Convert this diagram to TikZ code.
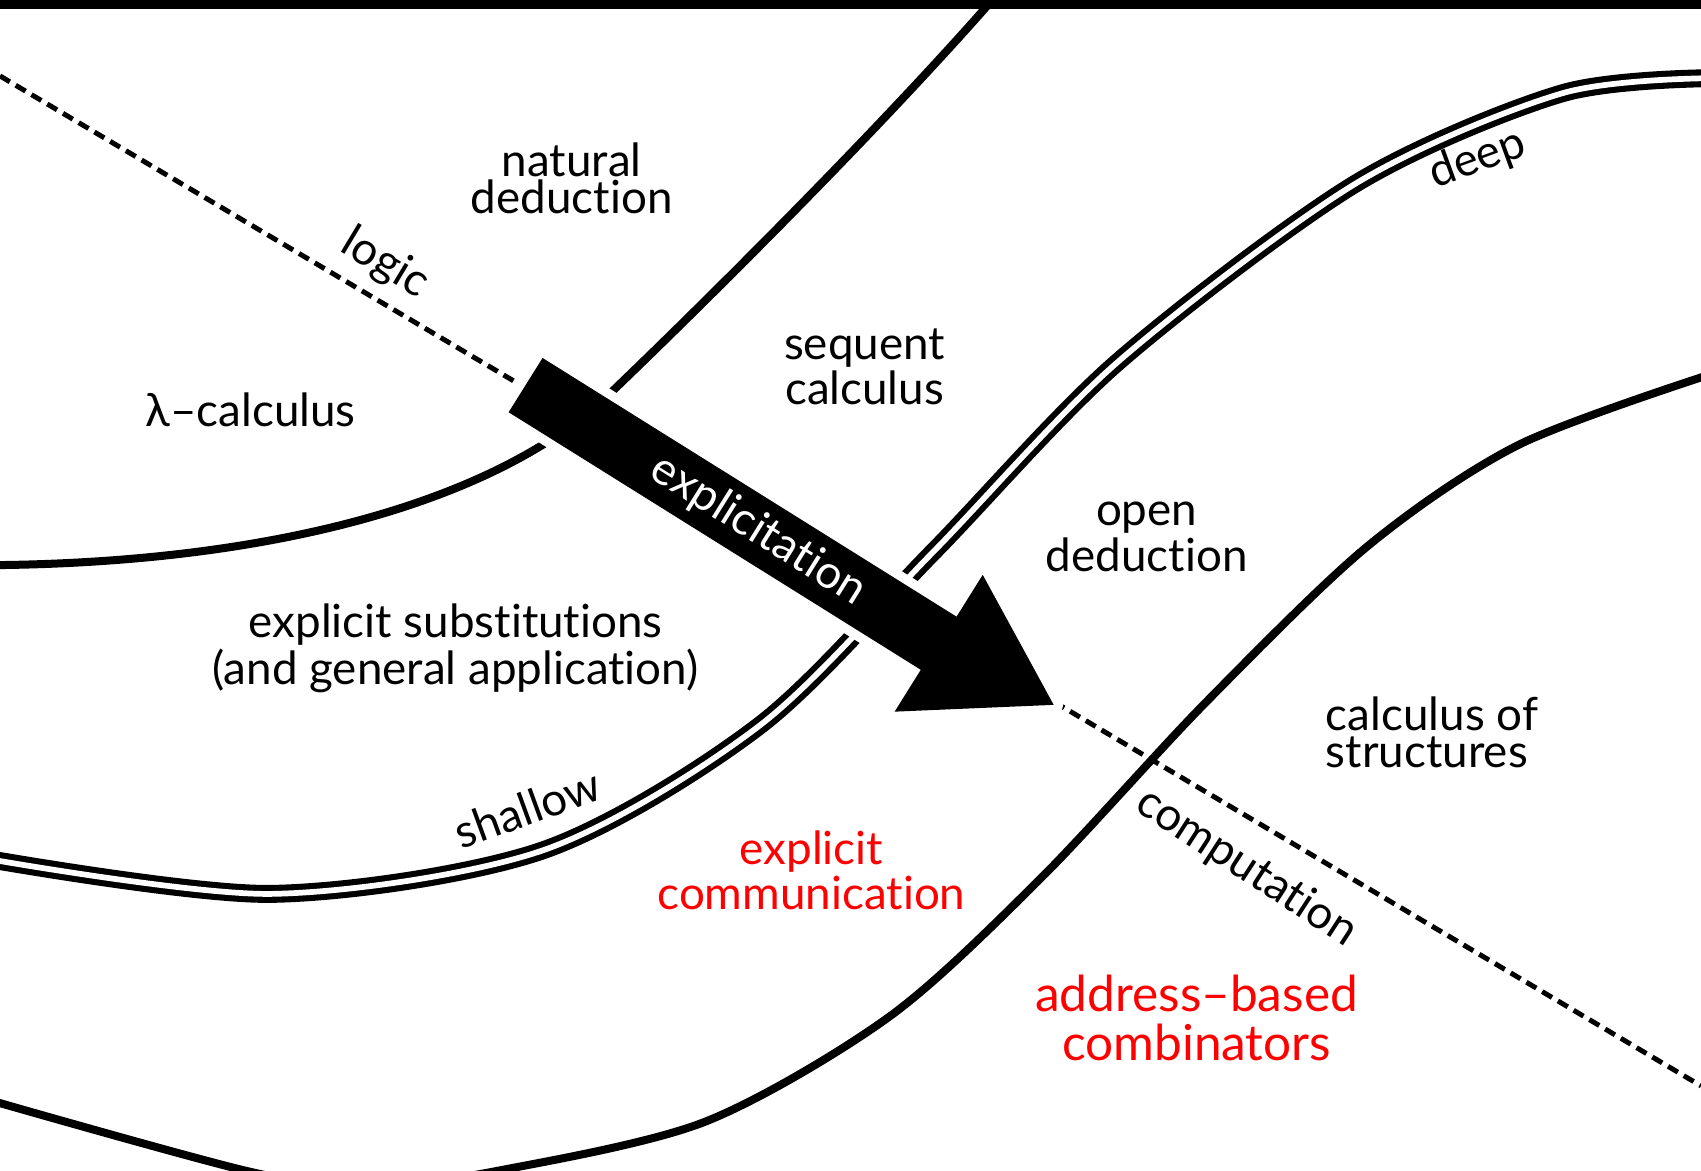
\documentclass[tikz,border=0pt]{standalone}
\usepackage{fontspec}
\setmainfont{Lato}[Ligatures=NoCommon]
\begin{document}
\begin{tikzpicture}[
    region/.style={font=\fontsize{12}{9.7}\selectfont, align=center, inner sep=0pt},
    along/.style={font=\fontsize{12}{12}\selectfont, inner sep=0pt},
    other/.style={region, text=red},
    border/.style={line width=2.1pt, line cap=round, line join=round},
    level/.style={line width=1.6pt, double=white, double distance=1.5pt},
    axis/.style={line width=1.3pt, dash pattern=on 3pt off 1.8pt}]
  \useasboundingbox (0,0) rectangle (15.68,10.79);
  \clip (0,0) rectangle (15.68,10.79);
  % top rule
  \fill (0,10.71) rectangle (15.68,10.85);
  % logic / computation axis
  \draw[axis] (0,10.09) -- (15.68,0.78);
  % natural deduction | lambda-calculus
  \draw[border] (9.2,10.85) .. controls (8.2,9.7) and (6.6,8.1) .. (5.62,7.16)
    .. controls (4.62,6.2) and (2.6,5.6) .. (-0.1,5.58);
  % shallow / deep
  \draw[level] plot[smooth] coordinates {(-0.1,2.87) (2.5,2.55) (5.0,2.95)
    (7.0,4.1) (8.6,5.7) (10.3,7.45) (12.5,9.1) (14.4,9.93) (15.8,10.07)};
  % explicit communication | address-based combinators
  \draw[border] plot[smooth] coordinates {(-0.1,0.65) (2.3,-0.01) (3.4,-0.15)
    (4.6,0.0) (6.5,0.45) (8.2,1.42) (9.6,2.7) (11.1,4.3) (12.6,5.75)
    (14.0,6.69) (15.8,7.35)};
  % explicitation arrow
  \begin{scope}[shift={(4.845,7.24)}, rotate=-32]
    \fill[preaction={draw=white, line width=5pt, line join=round}]
      (0,0.295) -- (4.5,0.295) -- (4.5,0.75) -- (5.69,0.08) -- (4.48,-0.75)
      -- (4.48,-0.295) -- (0,-0.295) -- cycle;
    \node[along, text=white, rotate=-32] (expl) at (2.53,0) {explicitation};
  \end{scope}
  % regions
  \node[region] (natded) at (5.27,9.15) {natural\\deduction};
  \node[region] (lambda) at (2.31,7.01) {λ--calculus};
  \node[region] (seqcalc) at (7.97,7.41) {sequent\\calculus};
  \node[region] (opended) at (10.57,5.84) {open\\deduction};
  \node[region] (explsub) at (4.20,4.81)
    {explicit substitutions\\(and general application)};
  \node[region, align=left] (cos) at (13.20,4.04) {calculus of\\structures};
  \node[other] (explcomm) at (7.48,2.77) {explicit\\communication};
  \node[other, font=\fontsize{13}{12.8}\selectfont] (addr) at (11.03,1.41)
    {address--based\\combinators};
  % labels along the lines
  \node[along, rotate=-31] (logic) at (3.55,8.36) {logic};
  \node[along, rotate=-33] (comput) at (11.49,2.79) {computation};
  \node[along, rotate=20] (shallow) at (4.86,3.34) {shallow};
  \node[along, rotate=20] (deep) at (13.62,9.32) {deep};
\end{tikzpicture}
\end{document}
